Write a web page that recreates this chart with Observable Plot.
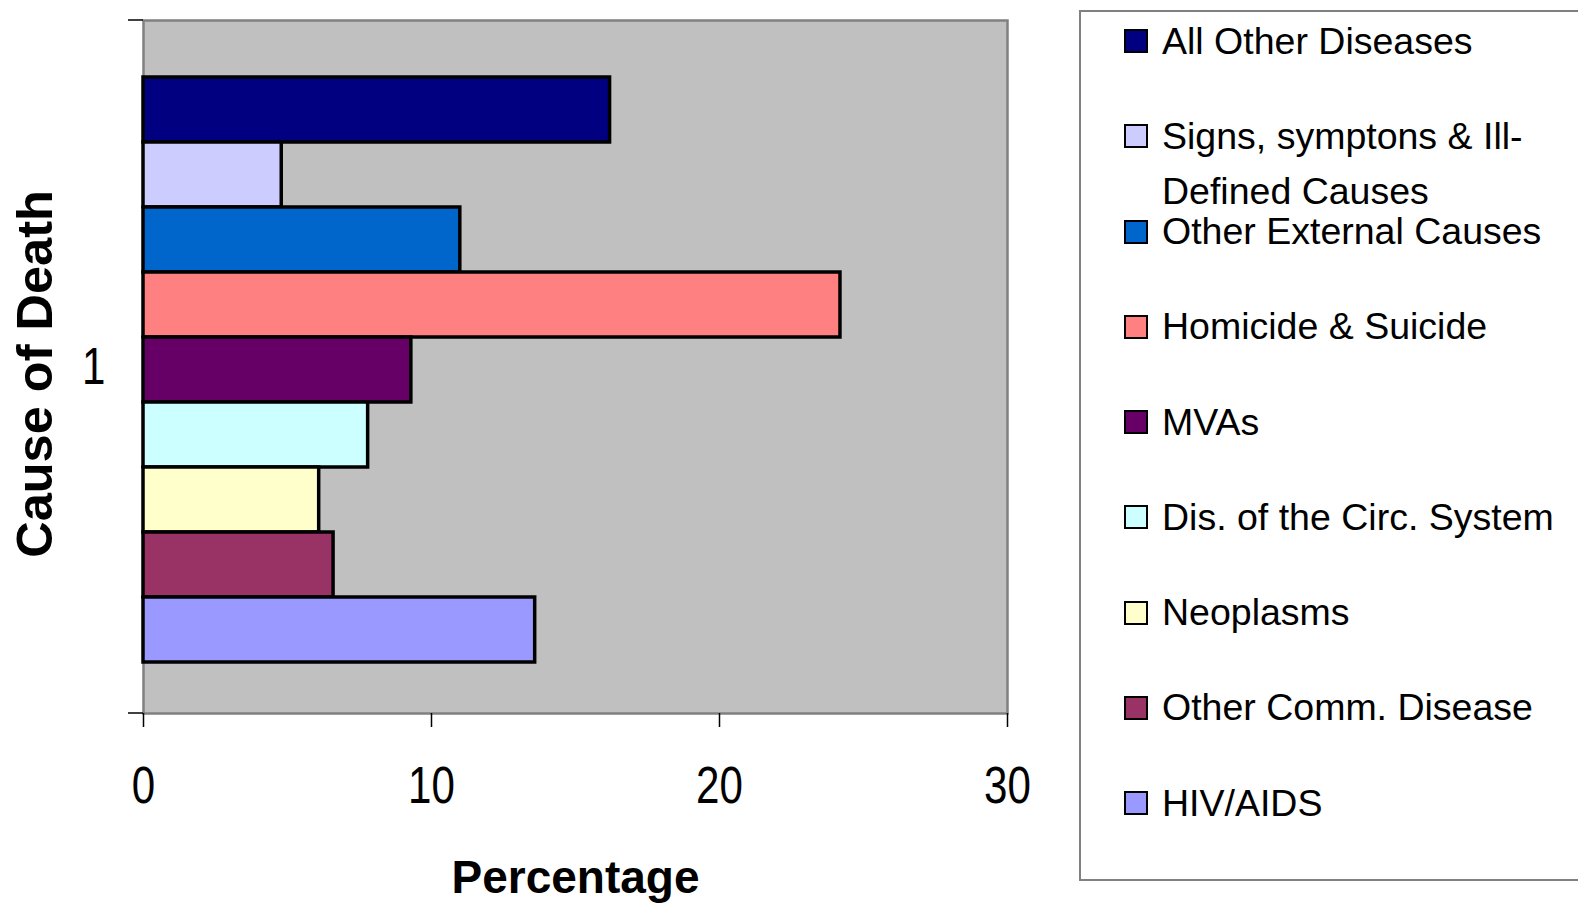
<!DOCTYPE html>
<html>
<head>
<meta charset="utf-8">
<script src="https://cdn.jsdelivr.net/npm/d3@7"></script>
<script src="https://cdn.jsdelivr.net/npm/@observablehq/plot@0.6"></script>
<style>
  html, body { margin: 0; padding: 0; background: #ffffff; }
  #wrap { position: relative; width: 1578px; height: 905px; overflow: hidden; }
  #legend {
    position: absolute; left: 1079px; top: 10px; width: 540px; height: 871px;
    border: 2px solid #808080; box-sizing: border-box;
    font-family: "Liberation Sans", Arial, sans-serif; font-size: 37.5px; color: #000;
  }
  .item { position: absolute; left: 0; width: 100%; height: 95px; }
  .sw { position: absolute; left: 43px; top: 15.5px; width: 24px; height: 24px; box-sizing: border-box; border: 2.5px solid #000; }
  .lbl { position: absolute; left: 81px; top: 0; line-height: 55px; max-width: 420px; white-space: normal; }
</style>
</head>
<body>
<div id="wrap">
  <div id="chart"></div>
  <div id="legend"></div>
</div>
<script>
// ---- data ----
const causes = [
  "All Other Diseases",
  "Signs, symptons & Ill-Defined Causes",
  "Other External Causes",
  "Homicide & Suicide",
  "MVAs",
  "Dis. of the Circ. System",
  "Neoplasms",
  "Other Comm. Disease",
  "HIV/AIDS"
];
const percentages = [16.2, 4.8, 11.0, 24.2, 9.3, 7.8, 6.1, 6.6, 13.6];
const colors = ["#000080", "#ccccff", "#0066cc", "#ff8080", "#660066", "#ccffff", "#ffffcc", "#993366", "#9999ff"];
const groupLabel = "1";
const xTicks = [0, 10, 20, 30];
const xTitle = "Percentage";
const yTitle = "Cause of Death";

const rows = causes.map((c, i) => ({cause: c, value: percentages[i], group: groupLabel}));

const boundaryTicks = (index, scales, values, dimensions) => {
  const {marginLeft, marginTop, height, marginBottom} = dimensions;
  const g = d3.create("svg:g").attr("stroke", "#000").attr("stroke-width", 1.5);
  for (const y of [marginTop, height - marginBottom]) {
    g.append("line").attr("x1", marginLeft - 15).attr("x2", marginLeft).attr("y1", y).attr("y2", y);
  }
  return g.node();
};

const chart = Plot.plot({
  width: 1578,
  height: 905,
  marginLeft: 143,
  marginRight: 571,
  marginTop: 20,
  marginBottom: 192,
  style: {background: "transparent", fontFamily: "'Liberation Sans', Arial, sans-serif", color: "#000"},
  x: {domain: [0, 30], ticks: xTicks},
  y: {domain: causes, paddingInner: 0, paddingOuter: 0.755, align: 0.53, axis: null},
  fy: {padding: 0, axis: null},
  color: {domain: causes, range: colors},
  marks: [
    Plot.frame({fill: "#c0c0c0", stroke: "#808080", strokeWidth: 2.5}),
    Plot.barX(rows, {x: "value", y: "cause", fy: "group", fill: "cause", stroke: "#000", strokeWidth: 3.5}),
    Plot.axisX({ticks: xTicks, tickSize: 14, tickPadding: 39, fontSize: 52, label: null, stroke: "#000", strokeWidth: 1.5}),
    Plot.axisFy({anchor: "left", tickSize: 0, tickPadding: 38, fontSize: 52, label: null}),
    boundaryTicks,
    Plot.text([xTitle], {frameAnchor: "bottom", dy: 179, textAnchor: "middle", lineAnchor: "bottom", fontSize: 46, fontWeight: "bold", fill: "#000"}),
    Plot.text([yTitle], {frameAnchor: "left", dx: -108, dy: 7, textAnchor: "middle", lineAnchor: "middle", rotate: -90, fontSize: 50.5, fontWeight: "bold", fill: "#000"})
  ]
});
document.getElementById("chart").appendChild(chart);

// condense the numeric tick labels, as in the original (narrow digits)
d3.select(chart).selectAll('g[aria-label="x-axis tick label"] text, g[aria-label="fy-axis tick label"] text')
  .each(function() {
    const w = this.getComputedTextLength();
    this.setAttribute("textLength", w * 0.81);
    this.setAttribute("lengthAdjust", "spacingAndGlyphs");
  });

// ---- legend ----
const legend = d3.select("#legend");
causes.forEach((c, i) => {
  const item = legend.append("div").attr("class", "item").style("top", (1.5 + i * 95.25) + "px");
  item.append("div").attr("class", "sw").style("background", colors[i]);
  item.append("div").attr("class", "lbl").text(c);
});
</script>
</body>
</html>
